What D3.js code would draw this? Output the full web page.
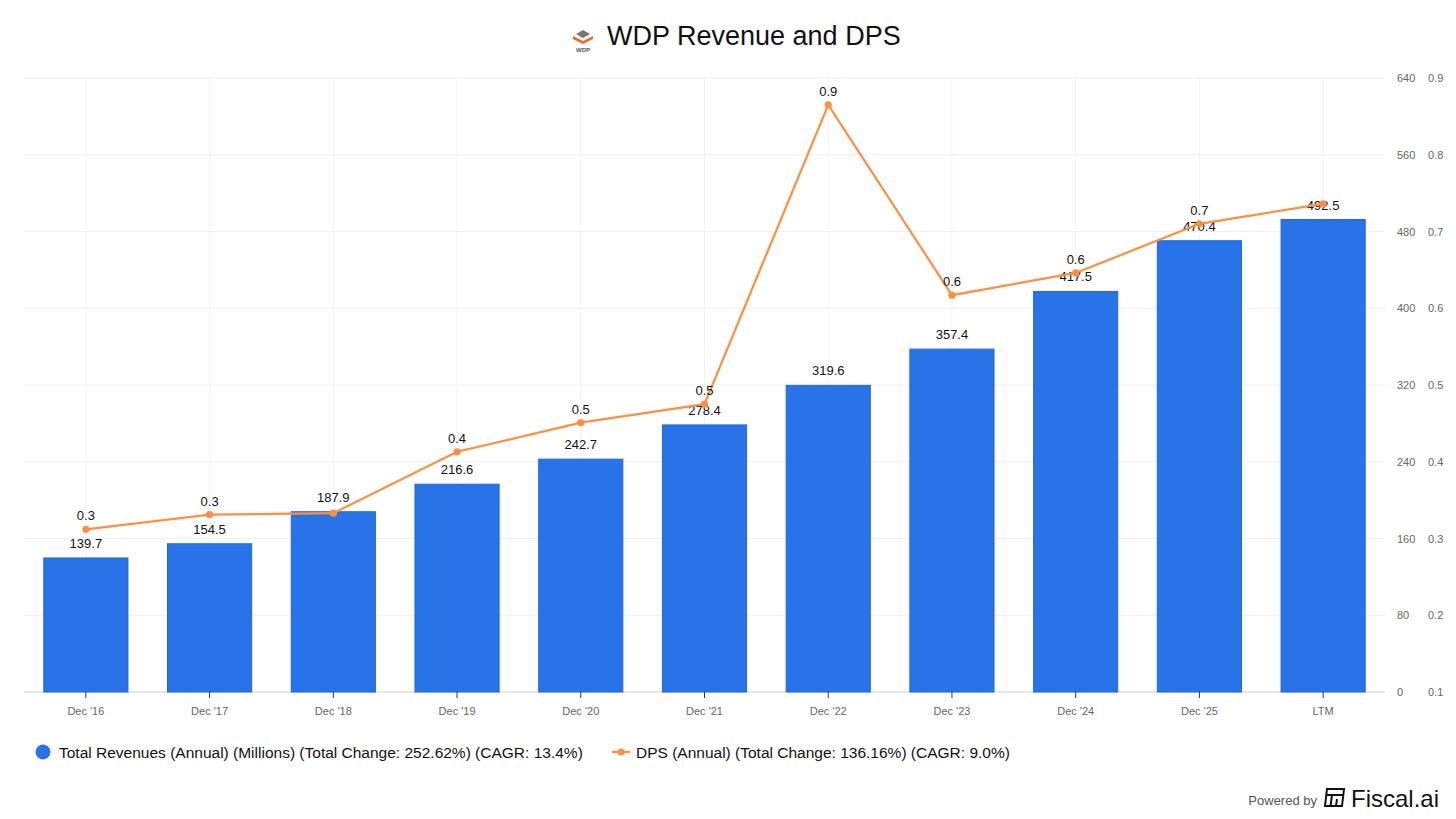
<!DOCTYPE html>
<html><head><meta charset="utf-8">
<script src="https://cdn.jsdelivr.net/npm/d3@7"></script>
<style>body{margin:0;background:#fff;}svg{display:block;font-family:"Liberation Sans",Arial,Helvetica,sans-serif;}</style>
</head><body>
<svg id="c" width="1456" height="819"></svg>
<script>
const categories = ["Dec '16","Dec '17","Dec '18","Dec '19","Dec '20","Dec '21","Dec '22","Dec '23","Dec '24","Dec '25","LTM"];
const revenues = [139.7,154.5,187.9,216.6,242.7,278.4,319.6,357.4,417.5,470.4,492.5];
const dps = [0.312,0.331,0.333,0.413,0.451,0.475,0.865,0.617,0.646,0.710,0.736];
const dpsLabels = ["0.3","0.3","","0.4","0.5","0.5","0.9","0.6","0.6","0.7",""];
const revTicks = [0,80,160,240,320,400,480,560,640];
const dpsTicks = [0.1,0.2,0.3,0.4,0.5,0.6,0.7,0.8,0.9];
const title = "WDP Revenue and DPS";
const legendRev = "Total Revenues (Annual) (Millions) (Total Change: 252.62%) (CAGR: 13.4%)";
const legendDps = "DPS (Annual) (Total Change: 136.16%) (CAGR: 9.0%)";

const svg = d3.select("#c");
const L=24, R=1385, T=78, B=692;
const x = d3.scaleBand().domain(categories).range([L,R]).paddingInner(0.32).paddingOuter(0.16);
const yR = d3.scaleLinear().domain([0,640]).range([B,T]);
const yD = d3.scaleLinear().domain([0.1,0.9]).range([B,T]);
const cx = c => x(c)+x.bandwidth()/2;

// grid
const g = svg.append("g");
g.selectAll(".hg").data(revTicks).join("line")
 .attr("x1",L).attr("x2",R).attr("y1",d=>yR(d)).attr("y2",d=>yR(d))
 .attr("stroke",d=>d===0?"#d0d0d0":"#f0f0f0").attr("stroke-width",1);
g.selectAll(".vg").data(categories).join("line")
 .attr("x1",cx).attr("x2",cx).attr("y1",T).attr("y2",B)
 .attr("stroke","#f3f3f3").attr("stroke-width",1);

// bars
svg.append("g").selectAll("rect").data(revenues).join("rect")
 .attr("x",(d,i)=>x(categories[i])).attr("width",x.bandwidth())
 .attr("y",d=>yR(d)).attr("height",d=>B-yR(d))
 .attr("fill","#2873e8").attr("stroke","#1f68e0").attr("stroke-width",1);

// x axis
const xa = svg.append("g").attr("transform",`translate(0,${B})`)
 .call(d3.axisBottom(x).tickSize(6).tickPadding(9));
xa.select(".domain").remove();
xa.selectAll(".tick line").attr("stroke","#333");
xa.selectAll("text").attr("fill","#666").attr("font-size",11);

// right axes
const ra = svg.append("g").attr("transform",`translate(1397,0)`)
 .call(d3.axisRight(yR).tickValues(revTicks).tickSize(0).tickPadding(0));
ra.select(".domain").remove();
ra.selectAll("text").attr("fill","#666").attr("font-size",11);
const da = svg.append("g").attr("transform",`translate(1428,0)`)
 .call(d3.axisRight(yD).tickValues(dpsTicks).tickSize(0).tickPadding(0).tickFormat(d3.format(".1f")));
da.select(".domain").remove();
da.selectAll("text").attr("fill","#666").attr("font-size",11);

// revenue labels
svg.append("g").selectAll("text").data(revenues).join("text")
 .attr("x",(d,i)=>cx(categories[i])).attr("y",d=>yR(d)-10)
 .attr("text-anchor","middle").attr("font-size",13).attr("fill","#111")
 .text(d=>d.toFixed(1));

// DPS line
const line = d3.line().x((d,i)=>cx(categories[i])).y(d=>yD(d));
svg.append("path").datum(dps).attr("d",line).attr("fill","none")
 .attr("stroke","#fd9040").attr("stroke-width",2.2);
svg.append("g").selectAll("circle").data(dps).join("circle")
 .attr("cx",(d,i)=>cx(categories[i])).attr("cy",d=>yD(d)).attr("r",3.6).attr("fill","#fd9040");
svg.append("g").selectAll("text").data(dps).join("text")
 .attr("x",(d,i)=>cx(categories[i])).attr("y",d=>yD(d)-9)
 .attr("text-anchor","middle").attr("font-size",13).attr("fill","#111")
 .text((d,i)=>dpsLabels[i]);

// title + logo
const tg = svg.append("g");
tg.append("text").attr("x",607).attr("y",45).attr("font-size",27).attr("fill","#111").text(title);
const lg = tg.append("g").attr("transform","translate(583,38)");
lg.append("path").attr("d","M-7,-4 L0,-8 L7,-4 L0,0 Z").attr("fill","#777");
lg.append("path").attr("d","M-10,-2 L0,3 L10,-2 L10,1 L0,6 L-10,1 Z").attr("fill","#f06a1e");
lg.append("text").attr("x",0).attr("y",14).attr("text-anchor","middle").attr("font-size",6).attr("font-weight","bold").attr("fill","#555").text("WDP");

// legend
svg.append("circle").attr("cx",43).attr("cy",752).attr("r",7).attr("fill","#2873e8").attr("stroke","#1f68e0");
svg.append("text").attr("x",59).attr("y",758).attr("font-size",15.5).attr("fill","#111").text(legendRev);
svg.append("line").attr("x1",612).attr("x2",630).attr("y1",752).attr("y2",752).attr("stroke","#fd9040").attr("stroke-width",2.2);
svg.append("circle").attr("cx",621).attr("cy",752).attr("r",3.6).attr("fill","#fd9040");
svg.append("text").attr("x",636).attr("y",758).attr("font-size",15.5).attr("fill","#111").text(legendDps);

// footer
svg.append("text").attr("x",1317).attr("y",805).attr("text-anchor","end").attr("font-size",13).attr("fill","#555").text("Powered by");
const fl = svg.append("g").attr("transform","translate(1324,789)");
fl.append("path").attr("d","M3,0 L20,0 L18,17 L1,17 Z").attr("fill","none").attr("stroke","#111").attr("stroke-width",2);
fl.append("path").attr("d","M2,6 L19,6 M8,6 L6.5,17 M13,10 L12,17").attr("stroke","#111").attr("stroke-width",2);
svg.append("text").attr("x",1351).attr("y",807).attr("font-size",24).attr("fill","#111").text("Fiscal.ai");
</script>
</body></html>
